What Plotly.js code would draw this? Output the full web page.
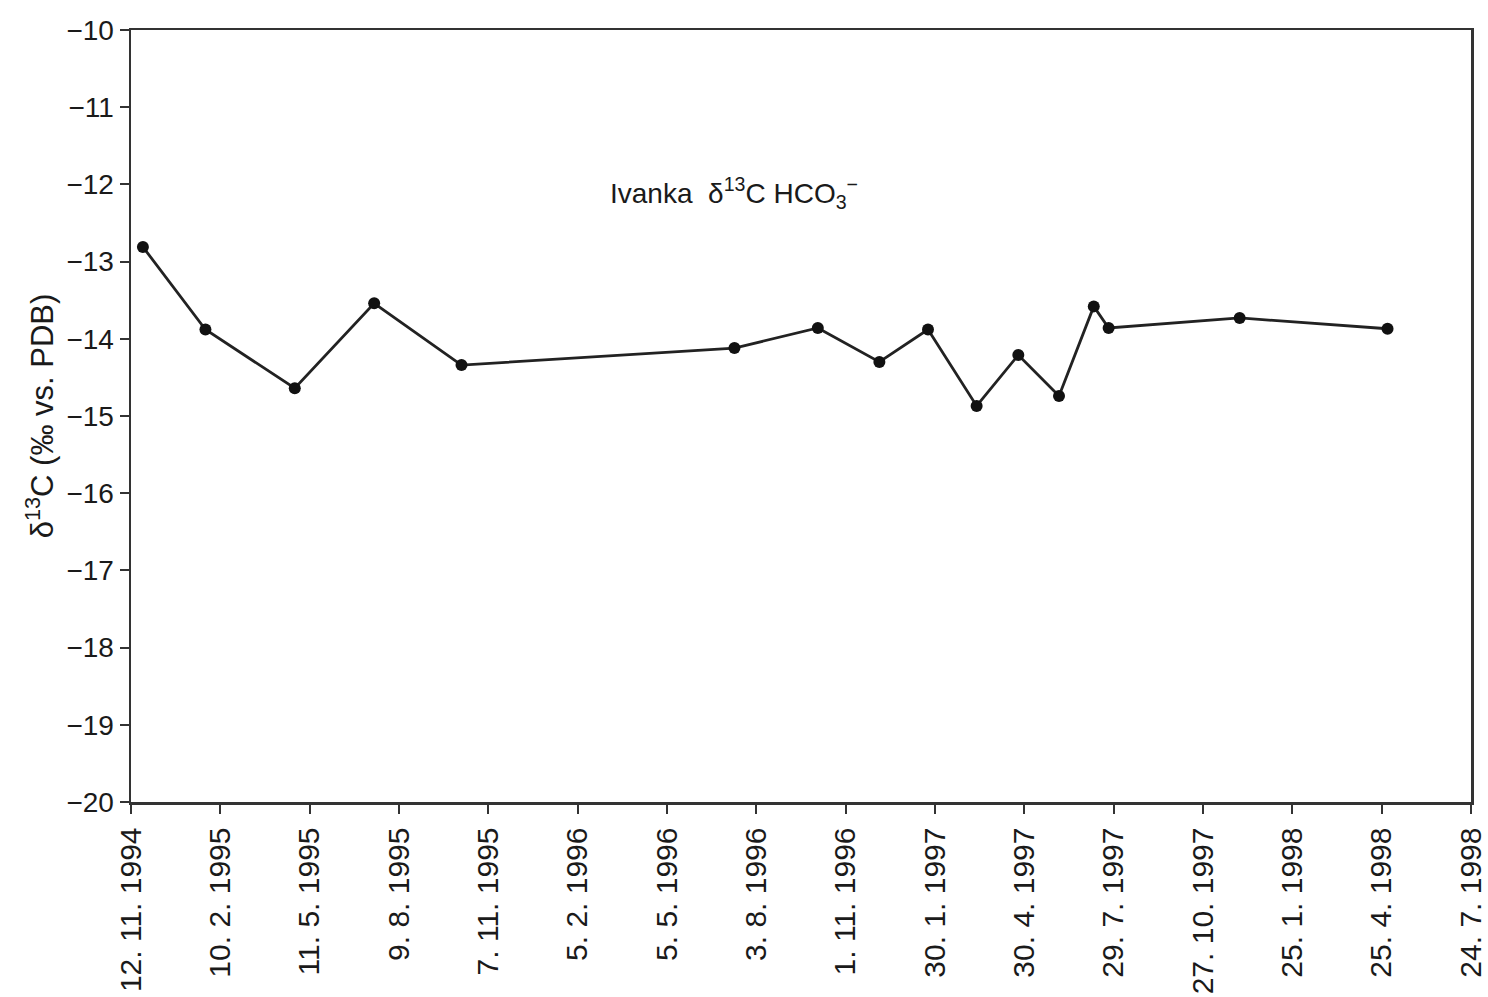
<!DOCTYPE html>
<html>
<head>
<meta charset="utf-8">
<script src="https://cdn.plot.ly/plotly-3.0.1.min.js"></script>
<style>
html,body{margin:0;padding:0;background:#fff;}
#chart{width:1488px;height:997px;}
</style>
</head>
<body>
<div id="chart"></div>
<script>
// Sampling dates and δ13C values (‰ vs. PDB)
const sampleDates = [
  '1994-11-24','1995-01-26','1995-04-26','1995-07-15','1995-10-11',
  '1996-07-12','1996-10-04','1996-12-05','1997-01-23','1997-03-13',
  '1997-04-24','1997-06-04','1997-07-09','1997-07-24','1997-12-03',
  '1998-05-01'
];
const d13C = [
  -12.81, -13.88, -14.64, -13.54, -14.34,
  -14.12, -13.86, -14.30, -13.88, -14.87,
  -14.21, -14.74, -13.58, -13.86, -13.73,
  -13.87
];
// x-axis ticks (every 90 days)
const tickDates = [
  '1994-11-12','1995-02-10','1995-05-11','1995-08-09','1995-11-07',
  '1996-02-05','1996-05-05','1996-08-03','1996-11-01','1997-01-30',
  '1997-04-30','1997-07-29','1997-10-27','1998-01-25','1998-04-25',
  '1998-07-24'
];
const tickLabels = [
  '12. 11. 1994','10. 2. 1995','11. 5. 1995','9. 8. 1995','7. 11. 1995',
  '5. 2. 1996','5. 5. 1996','3. 8. 1996','1. 11. 1996','30. 1. 1997',
  '30. 4. 1997','29. 7. 1997','27. 10. 1997','25. 1. 1998','25. 4. 1998',
  '24. 7. 1998'
];
const yTicks = [-10,-11,-12,-13,-14,-15,-16,-17,-18,-19,-20];
const yTickText = yTicks.map(v => '\u2212' + Math.abs(v));

const fontFam = 'Liberation Sans, Arial, sans-serif';

const trace = {
  x: sampleDates,
  y: d13C,
  type: 'scatter',
  mode: 'lines+markers',
  line: {color: '#222', width: 2.8},
  marker: {color: '#111', size: 12, symbol: 'circle'},
  showlegend: false,
  hoverinfo: 'x+y'
};

const layout = {
  width: 1488,
  height: 997,
  margin: {l: 131, r: 17, t: 30, b: 195},
  paper_bgcolor: '#fff',
  plot_bgcolor: '#fff',
  font: {family: fontFam, color: '#1a1a1a', size: 28},
  showlegend: false,
  xaxis: {
    type: 'date',
    range: ['1994-11-12', '1998-07-24 02:00'],
    tickmode: 'array',
    tickvals: tickDates,
    ticktext: tickLabels,
    tickangle: -90,
    ticks: 'outside',
    ticklen: 9,
    tickwidth: 2,
    tickcolor: '#333',
    showgrid: false,
    zeroline: false,
    showline: true,
    linecolor: '#333',
    linewidth: 2.5,
    mirror: true,
    tickfont: {family: fontFam, size: 30, color: '#1a1a1a'},
    ticklabelstandoff: 2,
    ticklabeloverflow: 'allow'
  },
  yaxis: {
    range: [-20, -10],
    tickmode: 'array',
    tickvals: yTicks,
    ticktext: yTickText,
    ticks: 'outside',
    ticklen: 9,
    tickwidth: 2,
    tickcolor: '#333',
    showgrid: false,
    zeroline: false,
    showline: true,
    linecolor: '#333',
    linewidth: 2.5,
    mirror: true,
    tickfont: {family: fontFam, size: 28, color: '#1a1a1a'},
    title: {
      text: 'δ<sup>13</sup>C (‰ vs. PDB)',
      font: {family: fontFam, size: 31, color: '#1a1a1a'},
      standoff: 4
    }
  },
  annotations: [{
    xref: 'paper', yref: 'paper',
    x: 0.45, y: 0.789,
    xanchor: 'center', yanchor: 'middle',
    text: 'Ivanka  δ<sup>13</sup>C HCO<sub>3</sub><sup>−</sup>',
    showarrow: false,
    font: {family: fontFam, size: 28, color: '#1a1a1a'}
  }]
};

Plotly.newPlot('chart', [trace], layout, {displayModeBar: false, staticPlot: true});
</script>
</body>
</html>
